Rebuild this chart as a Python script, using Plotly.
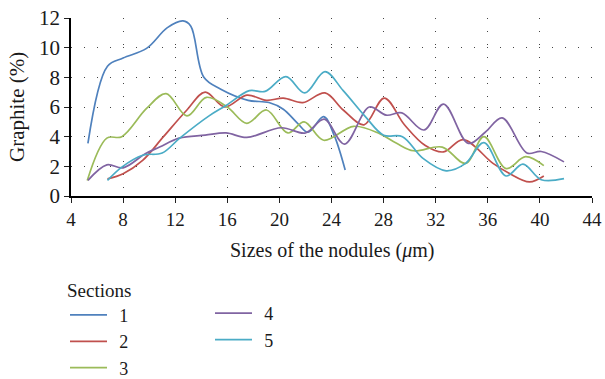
import plotly.graph_objects as go

# Section 1
x1 = [5.3, 6.8, 8.0, 9.8, 11.4, 12.6, 13.2, 14.2, 15.5, 17.6, 19.2, 20.3, 21.4, 22.2, 23.4, 24.2, 25.05]
y1 = [3.55, 8.75, 9.3, 9.95, 11.35, 11.8, 11.45, 8.0, 7.2, 6.45, 6.3, 5.85, 4.9, 4.3, 5.35, 4.1, 1.75]
# Section 2
x2 = [6.8, 8.0, 9.5, 11.1, 12.9, 14.3, 15.8, 17.5, 19.0, 20.3, 21.8, 23.5, 24.9, 26.5, 28.05, 29.6, 31.2, 32.6, 34.1, 36.4, 37.6, 39.2, 40.3]
y2 = [1.15, 1.5, 2.4, 4.0, 5.8, 7.0, 6.0, 6.8, 6.45, 6.6, 6.3, 6.95, 5.8, 4.8, 6.6, 4.8, 3.4, 2.97, 3.8, 2.2, 1.55, 0.95, 1.35]
# Section 3
x3 = [5.25, 6.75, 7.9, 9.8, 11.3, 12.9, 14.4, 16.0, 17.5, 19.0, 20.65, 21.9, 23.4, 25.7, 27.7, 29.0, 30.3, 32.5, 34.3, 35.7, 37.4, 38.9, 40.3]
y3 = [1.05, 3.9, 4.0, 5.9, 6.9, 5.4, 6.65, 6.0, 4.9, 5.8, 4.25, 5.0, 3.76, 4.7, 4.2, 3.55, 3.05, 3.3, 2.2, 4.0, 1.85, 2.65, 2.05]
# Section 4
x4 = [5.3, 6.75, 8.0, 9.7, 10.8, 12.3, 14.3, 15.9, 17.5, 20.15, 22.0, 23.45, 25.0, 26.9, 28.2, 29.4, 31.1, 32.6, 34.5, 35.8, 37.1, 39.0, 40.1, 41.85]
y4 = [1.05, 2.1, 1.9, 2.85, 3.3, 3.9, 4.1, 4.25, 3.95, 4.6, 4.25, 5.18, 3.5, 6.0, 5.45, 5.6, 4.45, 6.2, 3.55, 4.3, 5.27, 2.9, 3.0, 2.3]
# Section 5
x5 = [6.8, 7.9, 9.5, 11.0, 12.35, 14.6, 15.9, 17.7, 18.9, 20.5, 21.95, 23.5, 24.9, 26.6, 28.0, 29.45, 31.0, 32.8, 34.3, 35.7, 37.4, 38.7, 40.1, 41.85]
y5 = [1.05, 1.95, 2.75, 2.9, 3.9, 5.4, 6.1, 7.1, 7.05, 8.05, 6.95, 8.38, 7.1, 5.35, 4.1, 4.0, 2.55, 1.7, 2.2, 3.6, 1.35, 2.15, 1.1, 1.17]

names = ["1", "2", "3", "4", "5"]
colors = ["#4F81BD", "#C0504D", "#9BBB59", "#8064A2", "#4BACC6"]
xs = [x1, x2, x3, x4, x5]
ys = [y1, y2, y3, y4, y5]
legends = ["legend", "legend", "legend", "legend2", "legend2"]

xticks = list(range(4, 45, 4))
yticks = list(range(0, 13, 2))

x_title = "Sizes of the nodules (<i>μ</i>m)"
y_title = "Graphite (%)"
legend_title = "Sections"

FONT = "Liberation Serif"
GAP = "\u2009\u2009"

fig = go.Figure()
for x, y, n, c, lg in zip(xs, ys, names, colors, legends):
    fig.add_trace(go.Scatter(x=x, y=y, name=GAP + n, mode="lines",
                             line=dict(color=c, width=1.7, shape="spline", smoothing=1.0),
                             legend=lg))

fig.update_layout(
    width=605, height=379,
    margin=dict(l=71, r=13, t=18, b=183, autoexpand=False),
    paper_bgcolor="white", plot_bgcolor="white",
    font=dict(family=FONT, color="#1a1a1a", size=19),
    xaxis=dict(range=[4, 44], tickvals=xticks, ticks="outside", ticklen=5,
               tickcolor="#222", showline=True, linecolor="black", linewidth=1.5,
               showgrid=True, gridcolor="#444", griddash="1px,12px", gridwidth=1.3,
               zeroline=False, tickfont=dict(size=19), automargin=False),
    yaxis=dict(range=[0, 12], tickvals=yticks, ticks="outside", ticklen=5,
               tickcolor="#222", showline=True, linecolor="black", linewidth=1.5,
               showgrid=True, gridcolor="#444", griddash="1px,12px", gridwidth=1.3,
               zeroline=False, tickfont=dict(size=21), automargin=False),
    legend=dict(xref="container", yref="container", x=65/605, y=1 - 272/379,
                xanchor="left", yanchor="top", orientation="v",
                title=dict(text=legend_title, font=dict(size=19)),
                font=dict(size=18), itemwidth=37, tracegroupgap=0,
                bgcolor="rgba(0,0,0,0)"),
    legend2=dict(xref="container", yref="container", x=210/605, y=1 - 295/379,
                 xanchor="left", yanchor="top", orientation="v",
                 font=dict(size=18), itemwidth=37, tracegroupgap=0,
                 bgcolor="rgba(0,0,0,0)"),
    annotations=[
        dict(text=x_title, xref="paper", yref="paper", x=0.5, y=-(250 - 196) / 178,
             xanchor="center", yanchor="middle", showarrow=False, font=dict(size=20)),
        dict(text=y_title, xref="paper", yref="paper", x=(17 - 71) / 521, y=0.5,
             xanchor="center", yanchor="middle", showarrow=False, textangle=-90,
             font=dict(size=21)),
    ],
)

fig.write_html("out.html")
